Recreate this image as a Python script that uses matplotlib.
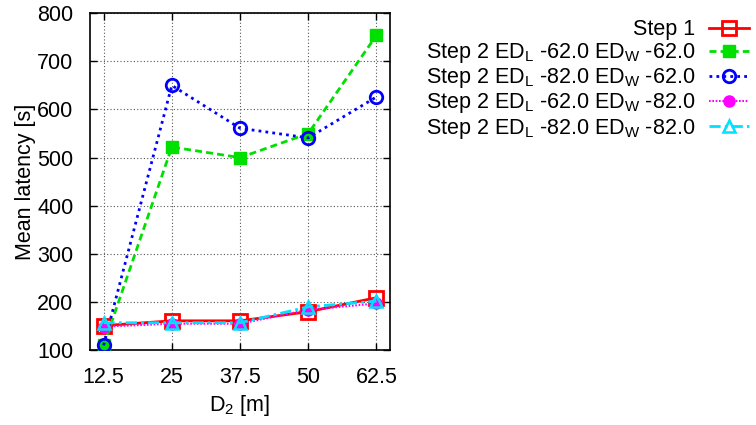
import matplotlib
matplotlib.use("Agg")
import matplotlib.pyplot as plt

plt.rcParams['font.family'] = ['Liberation Sans', 'DejaVu Sans']
plt.rcParams['mathtext.default'] = 'regular'

distances = [12.5, 25, 37.5, 50, 62.5]
x_tick_labels = ['12.5', '25', '37.5', '50', '62.5']

step1 = [151, 161, 161, 180, 209]
l62_w62 = [110, 522, 500, 550, 754]
l82_w62 = [110, 650, 561, 541, 626]
l62_w82 = [149, 155, 155, 184, 197]
l82_w82 = [157, 157, 157, 190, 202]

labels = [
    'Step 1',
    r'Step 2 ED$_{L}$ -62.0 ED$_{W}$ -62.0',
    r'Step 2 ED$_{L}$ -82.0 ED$_{W}$ -62.0',
    r'Step 2 ED$_{L}$ -62.0 ED$_{W}$ -82.0',
    r'Step 2 ED$_{L}$ -82.0 ED$_{W}$ -82.0',
]

FS = 15.5

fig = plt.figure(figsize=(7.56, 4.25), dpi=100)
ax = fig.add_axes([0.119, 0.176, 0.397, 0.793])

ax.plot(distances, step1, color='#ff0000', linestyle='-', linewidth=2,
        marker='s', markersize=9.5, markerfacecolor='none',
        markeredgewidth=2, label=labels[0], zorder=3)
ax.plot(distances, l62_w62, color='#00e000', linestyle=(0, (2.5, 1.5)), linewidth=2,
        marker='s', markersize=9, markerfacecolor='#00e000',
        markeredgecolor='#00e000', label=labels[1], zorder=3)
ax.plot(distances, l82_w62, color='#0000ff', linestyle=(0, (1, 1.5)), linewidth=2,
        marker='o', markersize=9, markerfacecolor='none',
        markeredgewidth=2, label=labels[2], zorder=3)
ax.plot(distances, l62_w82, color='#ff00ff', linestyle=(0, (0.8, 0.8)), linewidth=1.5,
        marker='o', markersize=8, markerfacecolor='#ff00ff',
        markeredgecolor='#ff00ff', label=labels[3], zorder=3)
ax.plot(distances, l82_w82, color='#00e0ff', linestyle=(0, (4, 1.5, 1, 1.5)), linewidth=2,
        marker='^', markersize=9, markerfacecolor='none',
        markeredgewidth=1.8, label=labels[4], zorder=4)

ax.set_xlim(10, 65)
ax.set_ylim(100, 800)
ax.set_xticks(distances)
ax.set_xticklabels(x_tick_labels)
ax.set_yticks(range(100, 801, 100))

ax.grid(True, color='#555555', linestyle=(0, (1, 2)), linewidth=0.8)
ax.tick_params(direction='in', top=True, right=True, length=5,
               labelsize=FS, width=1)
ax.tick_params(axis='x', pad=12)
ax.tick_params(axis='y', pad=12)
for s in ax.spines.values():
    s.set_linewidth(1.2)

ax.set_xlabel('D$_{2}$ [m]', fontsize=FS, labelpad=4)
ax.set_ylabel('Mean latency [s]', fontsize=FS, labelpad=1)

fig.legend(loc='upper right', bbox_to_anchor=(1.002, 0.975), frameon=False,
           markerfirst=False, fontsize=FS, handlelength=1.85,
           handletextpad=0.65, labelspacing=0.05, borderaxespad=0)

fig.savefig('out.png', dpi=100)
